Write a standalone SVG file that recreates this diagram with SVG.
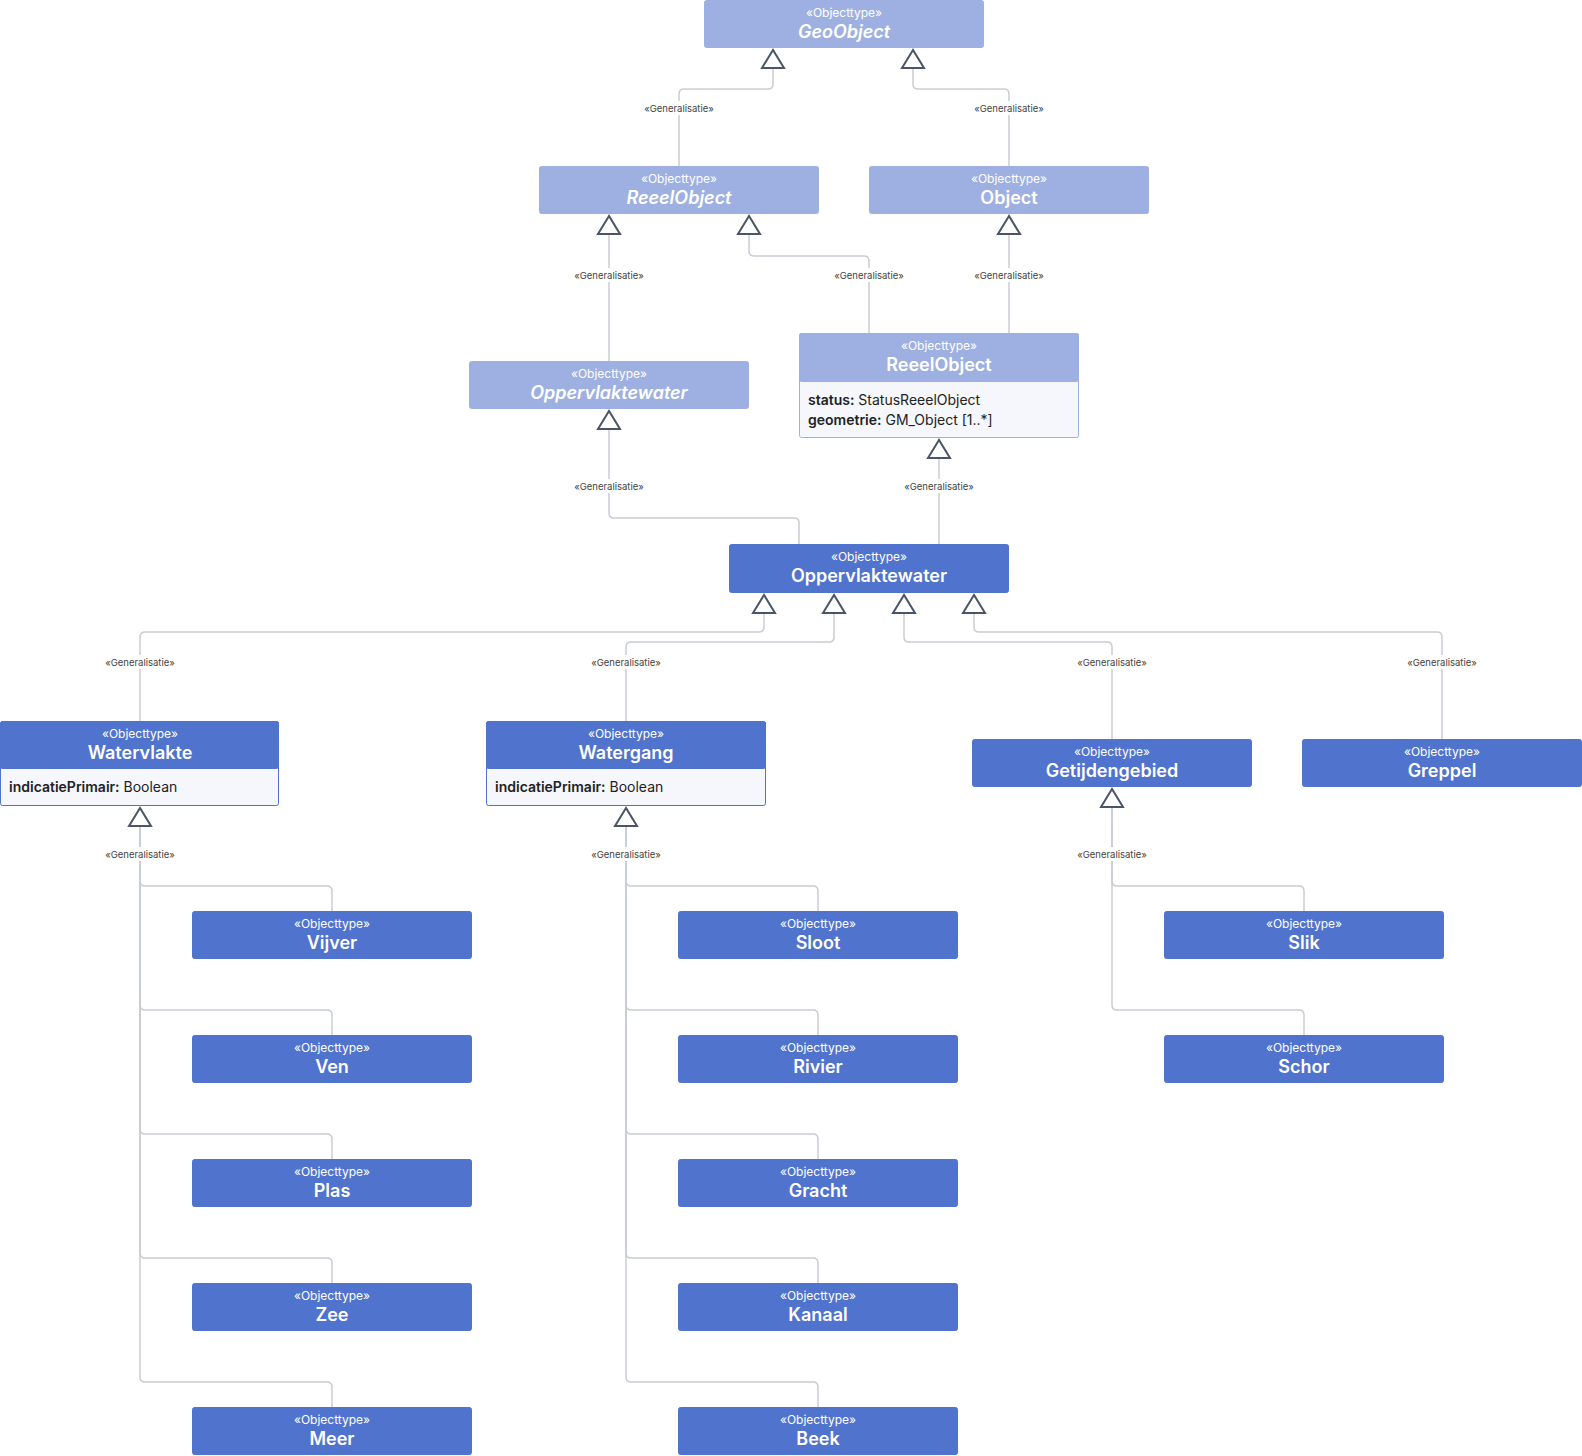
<svg xmlns="http://www.w3.org/2000/svg" xmlns:xlink="http://www.w3.org/1999/xlink" width="1582" height="1456" viewBox="0 0 1582 1456">
<defs>
<style>
.hl{fill:#9EB0E2;stroke:#9EB0E2;stroke-width:1}
.hd{fill:#5073CD;stroke:#5073CD;stroke-width:1}
.att{fill:#F5F7FC;stroke-width:1}
.st{font-family:Inter,"Noto Sans",sans-serif;font-size:12px;fill:#FFFFFF;text-anchor:middle}
.nm{font-family:Inter,"Noto Sans",sans-serif;font-size:18px;font-weight:600;fill:#FFFFFF;text-anchor:middle}
.it{font-style:italic}
.at{font-family:Inter,"Noto Sans",sans-serif;font-size:14px;fill:#222222}
.ab{font-weight:600}
.edge{fill:none;stroke:#C9CDD3;stroke-width:1.5}
.lbl{font-family:Inter,"Noto Sans",sans-serif;font-size:9.5px;fill:#444444;text-anchor:middle}
.lbg{fill:#FFFFFF}
.tri{fill:#FFFFFF;stroke:#4A5568;stroke-width:2;stroke-linejoin:miter}
</style>
<polygon id="tri" class="tri" points="0,0 -11,18 11,18"/>
<rect id="lb" class="lbg" x="-40" y="-8" width="80" height="14"/>
</defs>

<g id="connectors">
<path class="edge" d="M773,68 V84 Q773,89 768,89 H684 Q679,89 679,94 V166"/>
<path class="edge" d="M913,68 V84 Q913,89 918,89 H1004 Q1009,89 1009,94 V166"/>
<path class="edge" d="M609,234 V361"/>
<path class="edge" d="M749,234 V251 Q749,256 754,256 H864 Q869,256 869,261 V333"/>
<path class="edge" d="M1009,234 V333"/>
<path class="edge" d="M609,429 V513 Q609,518 614,518 H794 Q799,518 799,523 V544"/>
<path class="edge" d="M939,458 V544"/>
<path class="edge" d="M764,613 V627 Q764,632 759,632 H145 Q140,632 140,637 V721"/>
<path class="edge" d="M834,613 V637 Q834,642 829,642 H631 Q626,642 626,647 V721"/>
<path class="edge" d="M904,613 V637 Q904,642 909,642 H1107 Q1112,642 1112,647 V739"/>
<path class="edge" d="M974,613 V627 Q974,632 979,632 H1437 Q1442,632 1442,637 V739"/>

<path class="edge" d="M140,826 V881 Q140,886 145,886 H327 Q332,886 332,891 V911"/>
<path class="edge" d="M140,826 V1005 Q140,1010 145,1010 H327 Q332,1010 332,1015 V1035"/>
<path class="edge" d="M140,826 V1129 Q140,1134 145,1134 H327 Q332,1134 332,1139 V1159"/>
<path class="edge" d="M140,826 V1253 Q140,1258 145,1258 H327 Q332,1258 332,1263 V1283"/>
<path class="edge" d="M140,826 V1377 Q140,1382 145,1382 H327 Q332,1382 332,1387 V1407"/>

<path class="edge" d="M626,826 V881 Q626,886 631,886 H813 Q818,886 818,891 V911"/>
<path class="edge" d="M626,826 V1005 Q626,1010 631,1010 H813 Q818,1010 818,1015 V1035"/>
<path class="edge" d="M626,826 V1129 Q626,1134 631,1134 H813 Q818,1134 818,1139 V1159"/>
<path class="edge" d="M626,826 V1253 Q626,1258 631,1258 H813 Q818,1258 818,1263 V1283"/>
<path class="edge" d="M626,826 V1377 Q626,1382 631,1382 H813 Q818,1382 818,1387 V1407"/>

<path class="edge" d="M1112,807 V881 Q1112,886 1117,886 H1299 Q1304,886 1304,891 V911"/>
<path class="edge" d="M1112,807 V1005 Q1112,1010 1117,1010 H1299 Q1304,1010 1304,1015 V1035"/>

<use xlink:href="#tri" x="773" y="50"/>
<use xlink:href="#tri" x="913" y="50"/>
<use xlink:href="#tri" x="609" y="216"/>
<use xlink:href="#tri" x="749" y="216"/>
<use xlink:href="#tri" x="1009" y="216"/>
<use xlink:href="#tri" x="609" y="411"/>
<use xlink:href="#tri" x="939" y="440"/>
<use xlink:href="#tri" x="764" y="595"/>
<use xlink:href="#tri" x="834" y="595"/>
<use xlink:href="#tri" x="904" y="595"/>
<use xlink:href="#tri" x="974" y="595"/>
<use xlink:href="#tri" x="140" y="808"/>
<use xlink:href="#tri" x="626" y="808"/>
<use xlink:href="#tri" x="1112" y="789"/>

<use xlink:href="#lb" x="679" y="109"/><text class="lbl" x="679" y="112">«Generalisatie»</text>
<use xlink:href="#lb" x="1009" y="109"/><text class="lbl" x="1009" y="112">«Generalisatie»</text>
<use xlink:href="#lb" x="609" y="276"/><text class="lbl" x="609" y="279">«Generalisatie»</text>
<use xlink:href="#lb" x="869" y="276"/><text class="lbl" x="869" y="279">«Generalisatie»</text>
<use xlink:href="#lb" x="1009" y="276"/><text class="lbl" x="1009" y="279">«Generalisatie»</text>
<use xlink:href="#lb" x="609" y="487"/><text class="lbl" x="609" y="490">«Generalisatie»</text>
<use xlink:href="#lb" x="939" y="487"/><text class="lbl" x="939" y="490">«Generalisatie»</text>
<use xlink:href="#lb" x="140" y="663"/><text class="lbl" x="140" y="666">«Generalisatie»</text>
<use xlink:href="#lb" x="626" y="663"/><text class="lbl" x="626" y="666">«Generalisatie»</text>
<use xlink:href="#lb" x="1112" y="663"/><text class="lbl" x="1112" y="666">«Generalisatie»</text>
<use xlink:href="#lb" x="1442" y="663"/><text class="lbl" x="1442" y="666">«Generalisatie»</text>
<use xlink:href="#lb" x="140" y="855"/><text class="lbl" x="140" y="858">«Generalisatie»</text>
<use xlink:href="#lb" x="626" y="855"/><text class="lbl" x="626" y="858">«Generalisatie»</text>
<use xlink:href="#lb" x="1112" y="855"/><text class="lbl" x="1112" y="858">«Generalisatie»</text>
</g>

<g id="GeoObject">
<rect class="hl" x="704.5" y="0.5" width="279" height="47" rx="2"/>
<text class="st" x="844" y="17">«Objecttype»</text>
<text class="nm it" x="844" y="38">GeoObject</text>
</g>
<g id="ReeelObject_abstract">
<rect class="hl" x="539.5" y="166.5" width="279" height="47" rx="2"/>
<text class="st" x="679" y="183">«Objecttype»</text>
<text class="nm it" x="679" y="204">ReeelObject</text>
</g>
<g id="Object">
<rect class="hl" x="869.5" y="166.5" width="279" height="47" rx="2"/>
<text class="st" x="1009" y="183">«Objecttype»</text>
<text class="nm" x="1009" y="204">Object</text>
</g>
<g id="Oppervlaktewater_abstract">
<rect class="hl" x="469.5" y="361.5" width="279" height="47" rx="2"/>
<text class="st" x="609" y="378">«Objecttype»</text>
<text class="nm it" x="609" y="399">Oppervlaktewater</text>
</g>
<g id="ReeelObject">
<rect class="att" stroke="#9EB0E2" x="799.5" y="333.5" width="279" height="104" rx="2"/>
<rect class="hl" x="799.5" y="333.5" width="279" height="48" rx="2"/>
<text class="st" x="939" y="350">«Objecttype»</text>
<text class="nm" x="939" y="371">ReeelObject</text>
<text class="at" x="808" y="405"><tspan class="ab">status:</tspan> StatusReeelObject</text>
<text class="at" x="808" y="425"><tspan class="ab">geometrie:</tspan> GM_Object [1..*]</text>
</g>
<g id="Oppervlaktewater">
<rect class="hd" x="729.5" y="544.5" width="279" height="48" rx="2"/>
<text class="st" x="869" y="561">«Objecttype»</text>
<text class="nm" x="869" y="582">Oppervlaktewater</text>
</g>
<g id="Watervlakte">
<rect class="att" stroke="#5073CD" x="0.5" y="721.5" width="278" height="84" rx="2"/>
<rect class="hd" x="0.5" y="721.5" width="278" height="47" rx="2"/>
<text class="st" x="140" y="738">«Objecttype»</text>
<text class="nm" x="140" y="759">Watervlakte</text>
<text class="at" x="9" y="792"><tspan class="ab">indicatiePrimair:</tspan> Boolean</text>
</g>
<g id="Watergang">
<rect class="att" stroke="#5073CD" x="486.5" y="721.5" width="279" height="84" rx="2"/>
<rect class="hd" x="486.5" y="721.5" width="279" height="47" rx="2"/>
<text class="st" x="626" y="738">«Objecttype»</text>
<text class="nm" x="626" y="759">Watergang</text>
<text class="at" x="495" y="792"><tspan class="ab">indicatiePrimair:</tspan> Boolean</text>
</g>
<g id="Getijdengebied">
<rect class="hd" x="972.5" y="739.5" width="279" height="47" rx="2"/>
<text class="st" x="1112" y="756">«Objecttype»</text>
<text class="nm" x="1112" y="777">Getijdengebied</text>
</g>
<g id="Greppel">
<rect class="hd" x="1302.5" y="739.5" width="279" height="47" rx="2"/>
<text class="st" x="1442" y="756">«Objecttype»</text>
<text class="nm" x="1442" y="777">Greppel</text>
</g>

<g id="Vijver"><rect class="hd" x="192.5" y="911.5" width="279" height="47" rx="2"/><text class="st" x="332" y="928">«Objecttype»</text><text class="nm" x="332" y="949">Vijver</text></g>
<g id="Ven"><rect class="hd" x="192.5" y="1035.5" width="279" height="47" rx="2"/><text class="st" x="332" y="1052">«Objecttype»</text><text class="nm" x="332" y="1073">Ven</text></g>
<g id="Plas"><rect class="hd" x="192.5" y="1159.5" width="279" height="47" rx="2"/><text class="st" x="332" y="1176">«Objecttype»</text><text class="nm" x="332" y="1197">Plas</text></g>
<g id="Zee"><rect class="hd" x="192.5" y="1283.5" width="279" height="47" rx="2"/><text class="st" x="332" y="1300">«Objecttype»</text><text class="nm" x="332" y="1321">Zee</text></g>
<g id="Meer"><rect class="hd" x="192.5" y="1407.5" width="279" height="47" rx="2"/><text class="st" x="332" y="1424">«Objecttype»</text><text class="nm" x="332" y="1445">Meer</text></g>

<g id="Sloot"><rect class="hd" x="678.5" y="911.5" width="279" height="47" rx="2"/><text class="st" x="818" y="928">«Objecttype»</text><text class="nm" x="818" y="949">Sloot</text></g>
<g id="Rivier"><rect class="hd" x="678.5" y="1035.5" width="279" height="47" rx="2"/><text class="st" x="818" y="1052">«Objecttype»</text><text class="nm" x="818" y="1073">Rivier</text></g>
<g id="Gracht"><rect class="hd" x="678.5" y="1159.5" width="279" height="47" rx="2"/><text class="st" x="818" y="1176">«Objecttype»</text><text class="nm" x="818" y="1197">Gracht</text></g>
<g id="Kanaal"><rect class="hd" x="678.5" y="1283.5" width="279" height="47" rx="2"/><text class="st" x="818" y="1300">«Objecttype»</text><text class="nm" x="818" y="1321">Kanaal</text></g>
<g id="Beek"><rect class="hd" x="678.5" y="1407.5" width="279" height="47" rx="2"/><text class="st" x="818" y="1424">«Objecttype»</text><text class="nm" x="818" y="1445">Beek</text></g>

<g id="Slik"><rect class="hd" x="1164.5" y="911.5" width="279" height="47" rx="2"/><text class="st" x="1304" y="928">«Objecttype»</text><text class="nm" x="1304" y="949">Slik</text></g>
<g id="Schor"><rect class="hd" x="1164.5" y="1035.5" width="279" height="47" rx="2"/><text class="st" x="1304" y="1052">«Objecttype»</text><text class="nm" x="1304" y="1073">Schor</text></g>
</svg>
